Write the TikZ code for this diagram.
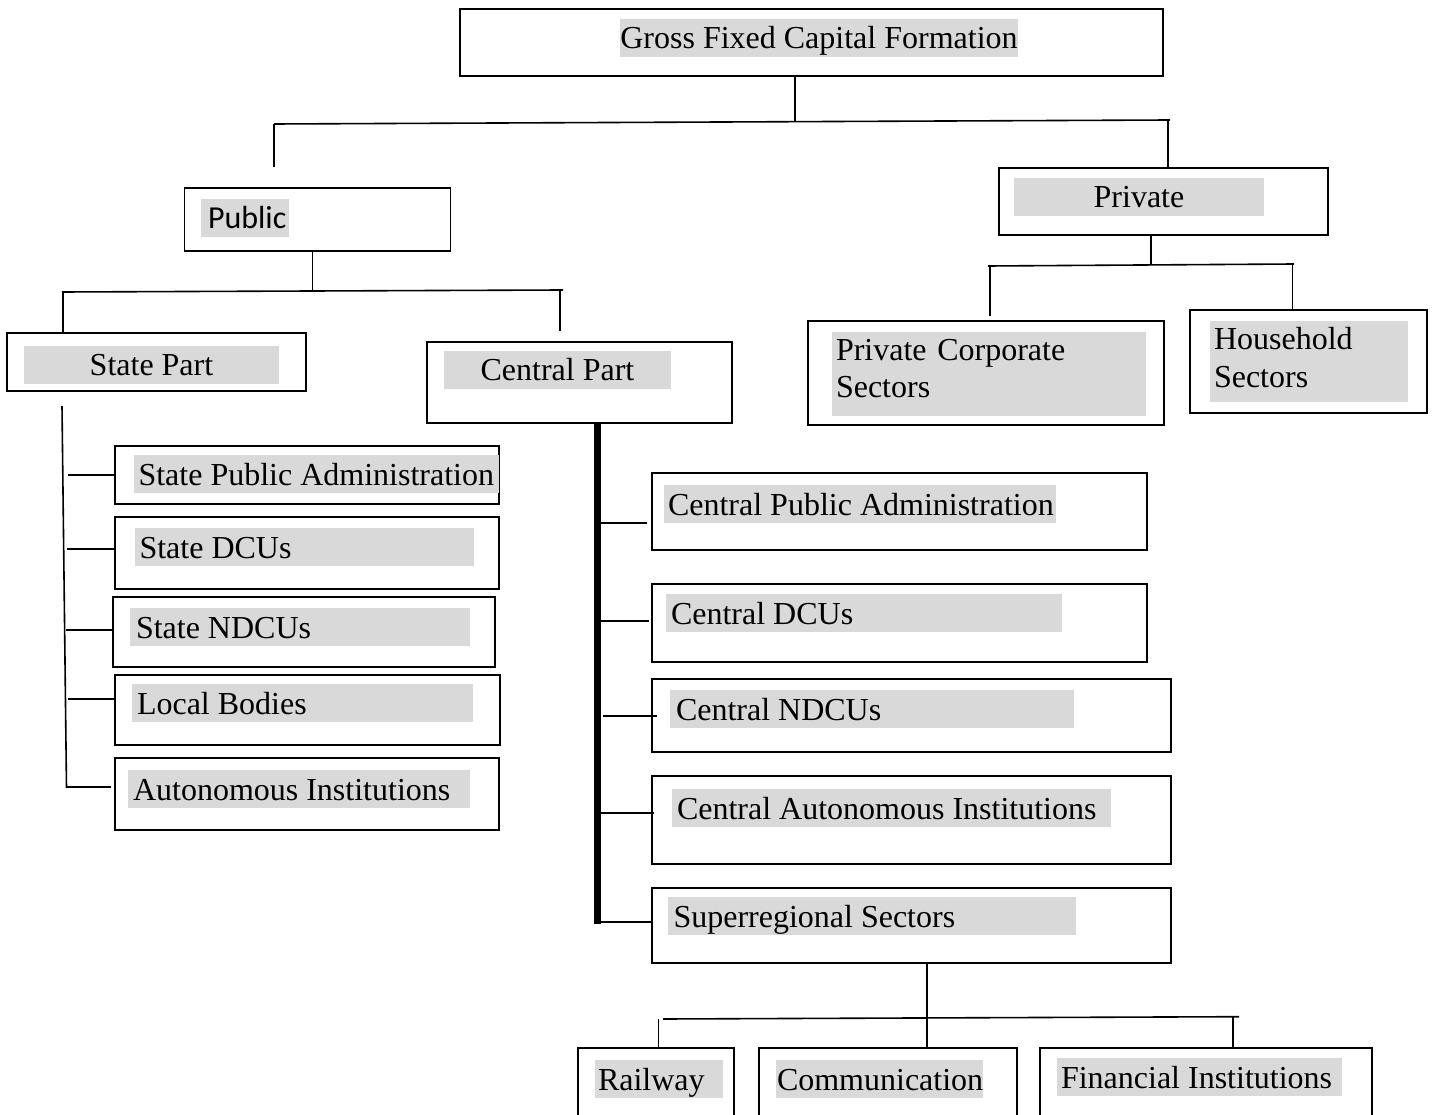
\documentclass[tikz,border=0pt]{standalone}
\usepackage{fontspec}
\setmainfont{Liberation Serif}
\newfontfamily\pubfont{Carlito}
\definecolor{hlgray}{HTML}{D9D9D9}
\newcommand\bx[5]{\node[box, minimum width=#4pt, minimum height=#5pt] (#1) at (#2,#3) {};}
\newcommand\hlt[6]{\node[hl] (#1) at (#2,#3) {\makebox[#4pt][#5]{#6}};}
\begin{document}
\begin{tikzpicture}[x=1pt,y=-1pt,
  box/.style={draw, line width=1.6pt, inner sep=0pt, outer sep=0pt, anchor=north west},
  hl/.style={fill=hlgray, inner sep=0pt, outer sep=0pt, text height=30pt, text depth=8pt,
    anchor=base west, font=\fontsize{32}{38}\selectfont},
  hltwo/.style={fill=hlgray, anchor=north west, inner xsep=4pt, inner ysep=0pt, outer sep=0pt,
    align=left, font=\fontsize{32}{38}\selectfont},
  conn/.style={line width=1.6pt},
  spine/.style={line width=7pt}]
\useasboundingbox (0,0) rectangle (1433,1115);
\clip (0,0) rectangle (1433,1115);

% boxes
\bx{gfcf}{460}{9}{703}{67}
\bx{pub}{184.5}{188}{266}{63}
\bx{priv}{999}{168}{329}{67}
\bx{stp}{7}{333}{299}{58}
\bx{cenp}{427}{342}{305}{81}
\bx{pcs}{808}{321}{356}{104}
\bx{hh}{1190}{310}{237}{103}
\bx{spa}{115}{446}{384}{58}
\bx{sdcu}{115}{517}{384}{72}
\bx{sndcu}{113}{597}{382}{70}
\bx{lb}{115}{675}{385}{70}
\bx{ai}{115}{758}{384}{72}
\bx{cpa}{652}{473}{495}{77}
\bx{cdcu}{652}{584}{495}{78}
\bx{cndcu}{652}{679}{519}{73}
\bx{cai}{652}{776}{519}{88}
\bx{sr}{652}{888}{519}{75}
\bx{rail}{578}{1048}{156}{100}
\bx{comm}{759}{1048}{258}{100}
\bx{fin}{1040}{1048}{332}{100}

% highlighted labels
\hlt{gfcfT}{620}{49}{398}{c}{Gross Fixed Capital Formation}
\hlt{pubT}{201}{229}{88}{l}{\hspace*{7pt}{\pubfont Public}}
\hlt{privT}{1014}{208}{250}{c}{Private}
\hlt{stpT}{24}{376}{255}{c}{State Part}
\hlt{cenpT}{444}{381}{227}{c}{Central Part}
\node[hltwo, text width=306pt, text height=28pt, text depth=56pt] (pcsT) at (832,332) {Private Corporate\\Sectors};
\node[hltwo, text width=190pt, text height=29pt, text depth=52pt] (hhT) at (1210,321) {Household\\Sectors};
\hlt{spaT}{134}{485}{365}{l}{\hspace*{4.5pt}State Public Administration}
\hlt{sdcuT}{135}{558}{339}{l}{\hspace*{4.5pt}State DCUs}
\hlt{sndcuT}{130}{638}{340}{l}{\hspace*{6pt}State NDCUs}
\hlt{lbT}{132}{714}{341}{l}{\hspace*{5pt}Local Bodies}
\hlt{aiT}{128}{800}{342}{l}{\hspace*{5pt}Autonomous Institutions}
\hlt{cpaT}{664}{515}{392}{l}{\hspace*{4pt}Central Public Administration}
\hlt{cdcuT}{666}{624}{396}{l}{\hspace*{5pt}Central DCUs}
\hlt{cndcuT}{670}{720}{404}{l}{\hspace*{6pt}Central NDCUs}
\hlt{caiT}{672}{819}{439}{l}{\hspace*{5pt}Central Autonomous Institutions}
\hlt{srT}{668}{927}{408}{l}{\hspace*{5.5pt}Superregional Sectors}
\hlt{railT}{595}{1090}{128}{l}{\hspace*{3pt}Railway}
\hlt{commT}{776}{1090}{207}{l}{\hspace*{1pt}Communication}
\hlt{finT}{1057}{1088}{285}{l}{\hspace*{4pt}Financial Institutions}

% junction coordinates
\coordinate (gJ) at (795,122);
\coordinate (gL) at (274,124);
\coordinate (gR) at (1170,120);
\coordinate (gLe) at (274,167);
\coordinate (gRs) at (1168,120.5);
\coordinate (pJ) at (312.5,292);
\coordinate (pL) at (62,292);
\coordinate (pR) at (563,290);
\coordinate (pLs) at (63,292);
\coordinate (pRs) at (560,290);
\coordinate (pRe) at (560,331);
\coordinate (vJ) at (1151,265);
\coordinate (vL) at (988,266);
\coordinate (vR) at (1294,264);
\coordinate (vLs) at (990,266);
\coordinate (vLe) at (990,316);
\coordinate (vRs) at (1292.5,264);
\coordinate (sTop) at (62,406);
\coordinate (sBot) at (66.5,788);
\coordinate (cBot) at (597,924);
\coordinate (rJ) at (927,1019);
\coordinate (rL) at (663,1019);
\coordinate (rR) at (1239,1016.7);
\coordinate (rLs) at (658.5,1019);
\coordinate (rRs) at (1233,1017);

% top level connectors
\draw[conn] (gJ |- gfcf.south) -- (gJ);
\draw[conn] (gL) -- (gR);
\draw[conn] (gL) -- (gLe);
\draw[conn] (gRs) -- (gRs |- priv.north);

% public connectors
\draw[conn] (pJ |- pub.south) -- (pJ);
\draw[conn] (pL) -- (pR);
\draw[conn] (pLs) -- (pLs |- stp.north);
\draw[conn] (pRs) -- (pRe);

% private connectors
\draw[conn] (vJ |- priv.south) -- (vJ);
\draw[conn] (vL) -- (vR);
\draw[conn] (vLs) -- (vLe);
\draw[conn] (vRs) -- (vRs |- hh.north);

% state spine and branches
\draw[conn] (sTop) -- (sBot);
\draw[conn] (68,475) -- (spa.west);
\draw[conn] (66.5,549) -- (115,549);
\draw[conn] (66,630) -- (113,630);
\draw[conn] (68,699) -- (115,699);
\draw[conn] (66,787) -- (111,787);

% central spine and branches
\draw[spine] (597,423) -- (cBot);
\draw[conn] (597,522.7) -- (647,522.7);
\draw[conn] (597,621) -- (649,621);
\draw[conn] (603,716) -- (656.7,716);
\draw[conn] (597,813) -- (654,813);
\draw[conn] (597,922) -- (652,922);

% superregional connectors
\draw[conn] (rJ |- sr.south) -- (rJ |- rail.north);
\draw[conn] (rL) -- (rR);
\draw[conn] (rLs) -- (rLs |- rail.north);
\draw[conn] (rRs) -- (rRs |- fin.north);
\end{tikzpicture}
\end{document}
